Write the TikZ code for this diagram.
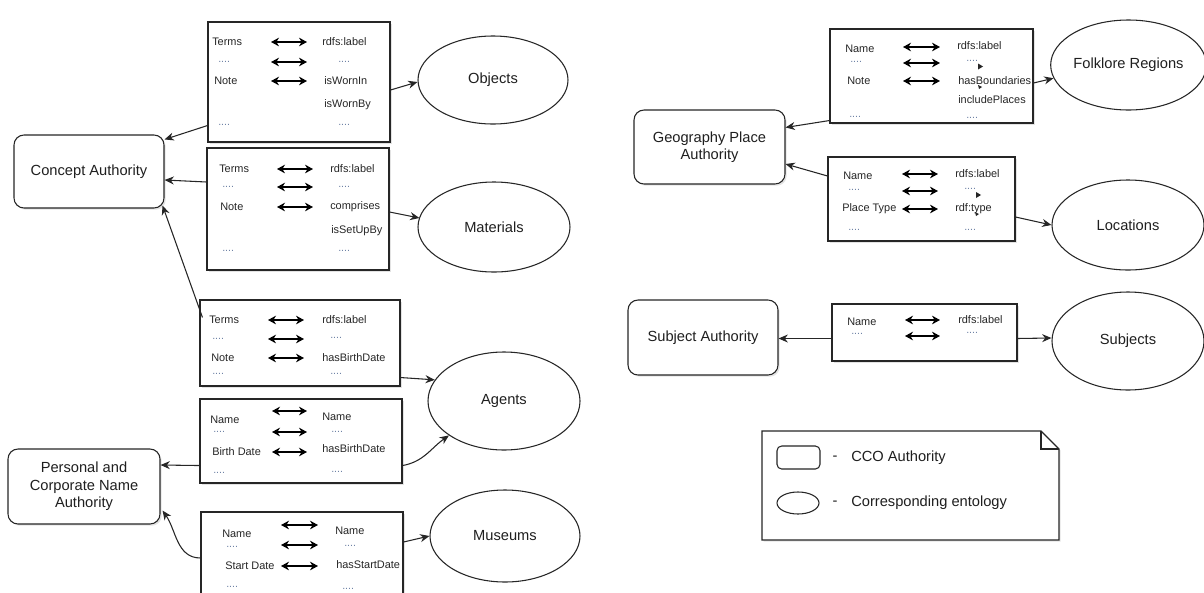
\documentclass[tikz,border=0pt]{standalone}
\usepackage{fontspec}
\setmainfont{Liberation Sans}
\usetikzlibrary{arrows.meta,shadows,calc,shapes.geometric}
\begin{document}
\begin{tikzpicture}[x=0.75pt,y=-0.75pt,
 shad/.style={drop shadow={opacity=0.22,shadow xshift=1.3pt,shadow yshift=-1.3pt}},
 auth/.style={draw=black!85,line width=0.8pt,rounded corners=7.5pt,fill=white,align=center,
   font=\fontsize{11}{13}\selectfont,text=black!88,inner sep=0,shad},
 mapbox/.style={draw=black!85,line width=0.8pt,fill=white,inner sep=0,shad},
 onto/.style={ellipse,draw=black!85,line width=0.8pt,fill=white,font=\fontsize{11}{13}\selectfont,
   text=black!88,inner sep=0},
 conn/.style={draw=black!85,line width=0.8pt,-{Stealth[length=7pt,width=6pt]}},
 dbl/.style={line width=1.5pt,{Stealth[length=6pt,width=6.5pt]}-{Stealth[length=6pt,width=6.5pt]}},
 lb/.style={anchor=west,inner sep=0,font=\fontsize{8.2}{9}\selectfont,text=black!85},
 dt/.style={anchor=west,inner sep=0,font=\fontsize{8}{9}\selectfont,text={rgb,255:red,110;green,130;blue,165}},
 leg/.style={anchor=west,inner sep=0,font=\fontsize{11}{13}\selectfont,text=black!88},
]
\useasboundingbox (0,0) rectangle (1204,593);
\clip (0,0) rectangle (1204,593);

% authorities
\node[auth,minimum width=150*0.75pt,minimum height=73*0.75pt] (ca) at (89,171.5) {Concept Authority};
\node[auth,minimum width=152*0.75pt,minimum height=75*0.75pt] (pa) at (84,486.5) {Personal and\\Corporate Name\\Authority};
\node[auth,minimum width=151*0.75pt,minimum height=74*0.75pt] (ga) at (709.5,147) {Geography Place\\Authority};
\node[auth,minimum width=150*0.75pt,minimum height=75*0.75pt] (sa) at (703,337.5) {Subject Authority};

% mapping boxes
\node[mapbox,minimum width=182*0.75pt,minimum height=120*0.75pt] (b1) at (299,82) {};
\node[mapbox,minimum width=182*0.75pt,minimum height=122*0.75pt] (b2) at (298,209) {};
\node[mapbox,minimum width=200*0.75pt,minimum height=86*0.75pt] (b3) at (300,343) {};
\node[mapbox,minimum width=202*0.75pt,minimum height=84*0.75pt] (b4) at (301,441) {};
\node[mapbox,minimum width=202*0.75pt,minimum height=88*0.75pt] (b5) at (302,556) {};
\node[mapbox,minimum width=203*0.75pt,minimum height=94*0.75pt] (b6) at (931.5,76) {};
\node[mapbox,minimum width=187*0.75pt,minimum height=84*0.75pt] (b7) at (921.5,199) {};
\node[mapbox,minimum width=185*0.75pt,minimum height=57*0.75pt] (b8) at (924.5,332.5) {};

% ontologies
\node[onto,minimum width=150*0.75pt,minimum height=88*0.75pt] (ob) at (493,80) {Objects};
\node[onto,minimum width=152*0.75pt,minimum height=90*0.75pt] (ma) at (494,227) {Materials};
\node[onto,minimum width=152*0.75pt,minimum height=98*0.75pt] (ag) at (504,401) {Agents};
\node[onto,minimum width=150*0.75pt,minimum height=92*0.75pt] (mu) at (505,536) {Museums};
\node[onto,minimum width=151*0.75pt,minimum height=90*0.75pt] (fr) at (1128.5,65) {Folklore Regions};
\node[onto,minimum width=152*0.75pt,minimum height=90*0.75pt] (lo) at (1128,225) {Locations};
\node[onto,minimum width=152*0.75pt,minimum height=98*0.75pt] (su) at (1128,341) {Subjects};

% labels in boxes
\foreach \t/\x/\y [count=\i] in {
  Terms/212/42, Note/214/81, rdfs:label/322/42, isWornIn/324/81, isWornBy/324/105,
  Terms/219/169, Note/220/207, rdfs:label/330/169, comprises/330/207, isSetUpBy/331/231,
  Terms/209/320, Note/211/358, rdfs:label/322/320, hasBirthDate/322/358,
  Name/210/420, Birth Date/212/452, Name/322/417, hasBirthDate/322/449,
  Name/222/534, Start Date/225/566, Name/335/531, hasStartDate/336/565,
  Name/845/49, Note/847/81, rdfs:label/957/46, hasBoundaries/958/81, includePlaces/958/100,
  Name/843/176, Place Type/842/209, rdfs:label/955/174, rdf:type/955/209,
  Name/847/322, rdfs:label/958/320}
  \node[lb] (lab\i) at (\x,\y) {\t};

\foreach \x/\y [count=\i] in {
  218/62, 218/125, 338/62, 338/125,
  222/187, 222/251, 338/187, 338/251,
  212/339, 212/374, 330/338, 330/374,
  213/432, 213/473, 331/432, 331/472,
  226/547, 226/587, 344/546, 342/589,
  850/62, 849/117, 966/61, 966/118,
  848/190, 848/230, 964/189, 964/230,
  851/334, 966/333}
  \node[dt] (dot\i) at (\x,\y) {....};

% double arrows
\foreach \a/\b/\y in {
  271/307/42, 271/307/62, 271/307/81,
  277/313/169, 277/313/187, 277/313/207,
  268/304/320, 268/304/339, 268/304/358,
  272/307/411, 272/307/432, 272/307/452,
  281/318/525, 281/318/545, 281/318/566,
  903/940/47, 903/940/63, 903/940/81,
  902/938/174, 902/938/191, 902/938/209,
  905/940/320, 905/940/336}
  \draw[dbl] (\a,\y) -- (\b,\y);

% tiny stray arrowheads
\fill[black!85] (978,63.5) -- (983,66.5) -- (978,69.5) -- cycle;
\fill[black!85] (976,192) -- (981,195) -- (976,198) -- cycle;
\fill[black!85] (978,85) -- (982,87) -- (979,89) -- cycle;
\fill[black!85] (975,212) -- (979,214) -- (976,216) -- cycle;

% connectors
\draw[conn] ($(b1.south west)+(0,-17)$) -- ($(ca.north east)+(0,5)$);
\draw[conn] ($(b2.west)+(0,-27)$) -- ($(ca.east)+(0,8.5)$);
\draw[conn] ($(b3.north west)+(3,18)$) -- ($(ca.south east)+(-2,-3)$);
\draw[conn] ($(b1.east)+(0,8)$) -- ($(ob.west)+(0,2)$);
\draw[conn] ($(b2.east)+(0,3)$) -- ($(ma.west)+(2,-9)$);
\draw[conn] ($(b3.south east)+(0,-9)$) -- (ag.163);
\draw[conn] ($(b4.south east)+(0,-18)$) to[out=10,in=215] (ag.212);
\draw[conn] ($(b4.south west)+(0,-18)$) -- ($(pa.east)+(0,-21.5)$);
\draw[conn] ($(b5.west)+(0,2)$) to[out=180,in=-55] ($(pa.south east)+(2,-14)$);
\draw[conn] ($(b5.east)+(0,-14)$) -- (mu.west);
\draw[conn] ($(b6.south west)+(0,-3)$) -- ($(ga.north east)+(0,18)$);
\draw[conn] ($(b7.west)+(0,-23)$) -- ($(ga.east)+(0,17)$);
\draw[conn] ($(b6.east)+(0,7)$) -- (fr.190);
\draw[conn] ($(b7.east)+(0,18)$) -- (lo.west);
\draw[conn] ($(b8.west)+(0,6)$) -- ($(sa.east)+(0,1)$);
\draw[conn] ($(b8.east)+(0,6)$) -- ($(su.west)+(0,-3)$);

% legend
\draw[draw=black!85,line width=0.8pt,fill=white,shad] (762,431) -- (1041,431) -- (1059,449) -- (1059,540) -- (762,540) -- cycle;
\draw[draw=black!85,line width=0.8pt] (1041,431) -- (1041,449) -- (1059,449);
\node[draw=black!85,line width=0.8pt,rounded corners=3.5pt,minimum width=43*0.75pt,minimum height=23*0.75pt,inner sep=0] (legbox) at (798.5,457.5) {};
\node[ellipse,draw=black!85,line width=0.8pt,minimum width=42*0.75pt,minimum height=22*0.75pt,inner sep=0] (legell) at (798,503) {};
\node[leg,anchor=center] (legd1) at (835,458) {-};
\node[leg] (legt1) at (851,458) {CCO Authority};
\node[leg,anchor=center] (legd2) at (835,503) {-};
\node[leg] (legt2) at (851,503) {Corresponding entology};
\end{tikzpicture}
\end{document}
